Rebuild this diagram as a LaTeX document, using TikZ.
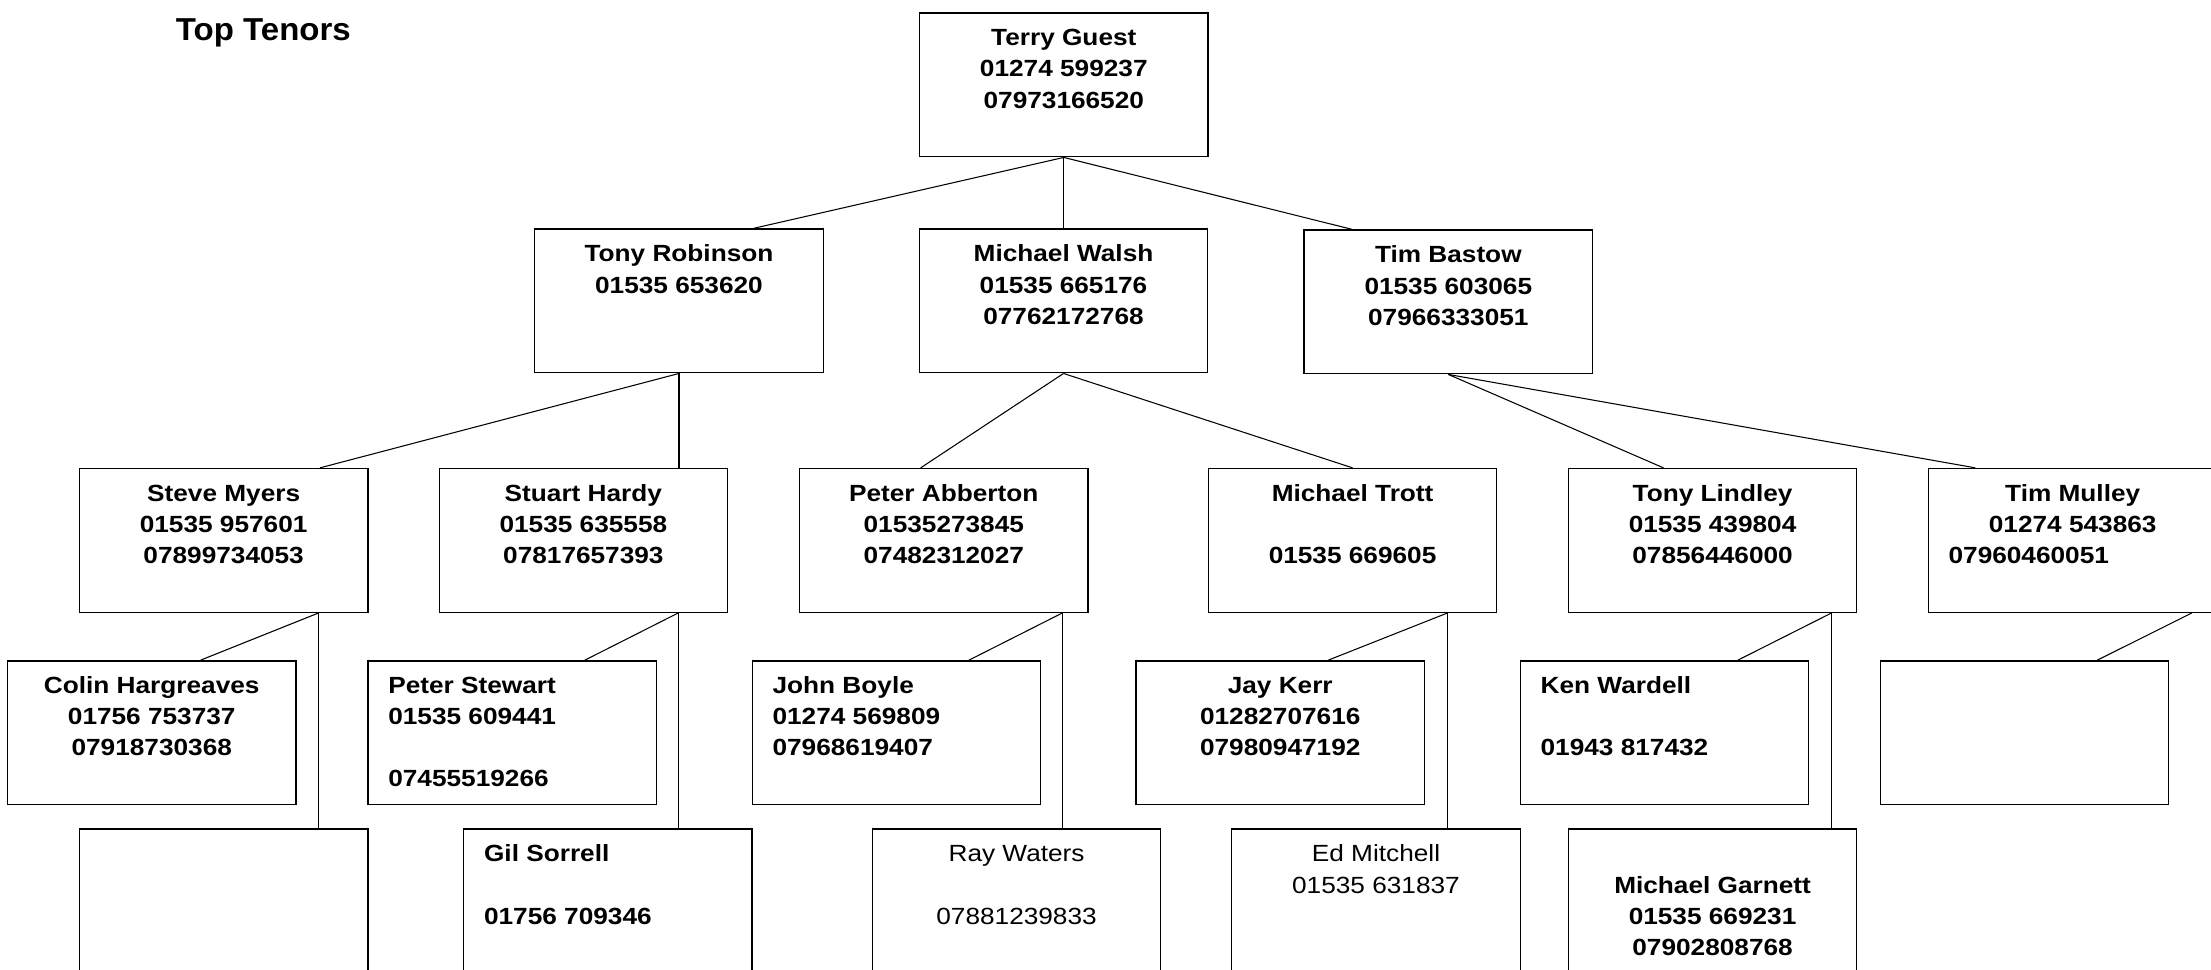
\documentclass[tikz,border=0pt]{standalone}
\usepackage{fontspec}
\usetikzlibrary{calc}
\newfontfamily\bodyfont{Liberation Sans}[FakeStretch=1.12]
\newfontfamily\titlefont{Liberation Sans}[FakeStretch=1.04]
\newcommand{\fl}{\rule{0pt}{13pt}}
\tikzset{
  box/.style={draw=black, line width=0.95pt, fill=white, minimum width=204.5pt, minimum height=102pt, inner sep=0pt, anchor=north west},
  conn/.style={draw=black, line width=0.75pt},
  txt/.style={inner sep=0pt, align=center, font=\bodyfont\bfseries\fontsize{16.6}{22}\selectfont},
  txtl/.style={txt, align=left},
  txtn/.style={inner sep=0pt, align=center, font=\bodyfont\fontsize{16.6}{22}\selectfont},
  ttl/.style={inner sep=0pt, font=\titlefont\bfseries\fontsize{22.5}{26}\selectfont}
}
\begin{document}
\begin{tikzpicture}[x=1pt, y=-1pt]
\useasboundingbox (0,0) rectangle (1568,687.2);
\clip (0,0) rectangle (1568,687.2);
\fill[white] (0,0) rectangle (1568,687.2);

\node[ttl, anchor=base west] (title) at (124.6,28.4) {Top Tenors};

% boxes
\node[box] (tg) at (651.7,8.7) {};
\node[box] (tr) at (378.8,161.9) {};
\node[box] (mw) at (651.5,161.9) {};
\node[box] (tb) at (924.4,162.6) {};
\node[box] (sm) at (55.9,331.8) {};
\node[box] (sh) at (311,331.8) {};
\node[box] (pa) at (566.6,331.8) {};
\node[box] (mt) at (856.5,331.8) {};
\node[box] (tl) at (1111.8,331.8) {};
\node[box] (tm) at (1367.2,331.8) {};
\node[box] (ch) at (4.9,468.2) {};
\node[box] (ps) at (260.5,468.2) {};
\node[box] (jb) at (533,468.2) {};
\node[box] (jk) at (805.2,468.2) {};
\node[box] (kw) at (1077.7,468.2) {};
\node[box] (ea) at (1333,468.2) {};
\node[box] (eb) at (55.9,587.4) {};
\node[box] (gs) at (328.4,587.4) {};
\node[box] (rw) at (618.2,587.4) {};
\node[box] (em) at (873.1,587.4) {};
\node[box] (mg) at (1111.8,587.4) {};

% connectors
\coordinate (smb) at ($(sm.south west)+(169.9,0)$);
\coordinate (shb) at ($(sh.south west)+(169.9,0)$);
\coordinate (pab) at ($(pa.south west)+(186.7,0)$);
\coordinate (mtb) at ($(mt.south west)+(169.9,0)$);
\coordinate (tlb) at ($(tl.south west)+(187,0)$);
\coordinate (tmb) at ($(tm.south west)+(187.1,0)$);

\draw[conn] (tg.south) -- ($(tr.north west)+(155.8,0)$);
\draw[conn] (tg.south) -- (tg.south |- mw.north);
\draw[conn] (tg.south) -- ($(tb.north west)+(34.2,0)$);

\draw[conn] (tr.south) -- ($(sm.north west)+(171,0)$);
\draw[conn] (tr.south) -- (tr.south |- sh.north);
\draw[conn] (mw.south) -- ($(pa.north west)+(86.3,0)$);
\draw[conn] (mw.south) -- (mt.north);
\draw[conn] (tb.south) -- ($(tl.north west)+(67.9,0)$);
\draw[conn] (tb.south) -- ($(tm.north west)+(33.7,0)$);

\draw[conn] (smb) -- ($(ch.north west)+(137.3,0)$);
\draw[conn] (smb) -- (smb |- eb.north);
\draw[conn] (shb) -- ($(ps.north west)+(154.2,0)$);
\draw[conn] (shb) -- (shb |- gs.north);
\draw[conn] (pab) -- ($(jb.north west)+(154.1,0)$);
\draw[conn] (pab) -- (pab |- rw.north);
\draw[conn] (mtb) -- ($(jk.north west)+(136.7,0)$);
\draw[conn] (mtb) -- (mtb |- em.north);
\draw[conn] (tlb) -- ($(kw.north west)+(154.7,0)$);
\draw[conn] (tlb) -- (tlb |- mg.north);
\draw[conn] (tmb) -- ($(ea.north west)+(154.3,0)$);

% texts
\node[txt, anchor=north] (tgT) at ($(tg.north)+(0,10.7)$) {\fl Terry Guest\\01274 599237\\07973166520};
\node[txt, anchor=north] (trT) at ($(tr.north)+(0,10.7)$) {\fl Tony Robinson\\01535 653620};
\node[txt, anchor=north] (mwT) at ($(mw.north)+(0,10.7)$) {\fl Michael Walsh\\01535 665176\\07762172768};
\node[txt, anchor=north] (tbT) at ($(tb.north)+(0,10.7)$) {\fl Tim Bastow\\01535 603065\\07966333051};
\node[txt, anchor=north] (smT) at ($(sm.north)+(0,10.7)$) {\fl Steve Myers\\01535 957601\\07899734053};
\node[txt, anchor=north] (shT) at ($(sh.north)+(0,10.7)$) {\fl Stuart Hardy\\01535 635558\\07817657393};
\node[txt, anchor=north] (paT) at ($(pa.north)+(0,10.7)$) {\fl Peter Abberton\\01535273845\\07482312027};
\node[txt, anchor=north] (mtT) at ($(mt.north)+(0,10.7)$) {\fl Michael Trott\\ ~ \\01535 669605};
\node[txt, anchor=north] (tlT) at ($(tl.north)+(0,10.7)$) {\fl Tony Lindley\\01535 439804\\07856446000};
\node[txt, anchor=north] (tmT) at ($(tm.north)+(0,10.7)$) {\fl Tim Mulley\\01274 543863};
\node[txtl, anchor=north west] (tmT2) at ($(tm.north west)+(14.5,54.7)$) {\fl 07960460051};
\node[txt, anchor=north] (chT) at ($(ch.north)+(0,10.7)$) {\fl Colin Hargreaves\\01756 753737\\07918730368};
\node[txtl, anchor=north west] (psT) at ($(ps.north west)+(14.7,10.7)$) {\fl Peter Stewart\\01535 609441\\ ~ \\07455519266};
\node[txtl, anchor=north west] (jbT) at ($(jb.north west)+(14.7,10.7)$) {\fl John Boyle\\01274 569809\\07968619407};
\node[txt, anchor=north] (jkT) at ($(jk.north)+(0,10.7)$) {\fl Jay Kerr\\01282707616\\07980947192};
\node[txtl, anchor=north west] (kwT) at ($(kw.north west)+(14.7,10.7)$) {\fl Ken Wardell\\ ~ \\01943 817432};
\node[txtl, anchor=north west] (gsT) at ($(gs.north west)+(14.7,10.7)$) {\fl Gil Sorrell\\ ~ \\01756 709346};
\node[txtn, anchor=north] (rwT) at ($(rw.north)+(0,10.7)$) {\fl Ray Waters\\ ~ \\07881239833};
\node[txtn, anchor=north] (emT) at ($(em.north)+(0,10.7)$) {\fl Ed Mitchell\\01535 631837};
\node[txt, anchor=north] (mgT) at ($(mg.north)+(0,32.7)$) {\fl Michael Garnett\\01535 669231\\07902808768};
\end{tikzpicture}
\end{document}
